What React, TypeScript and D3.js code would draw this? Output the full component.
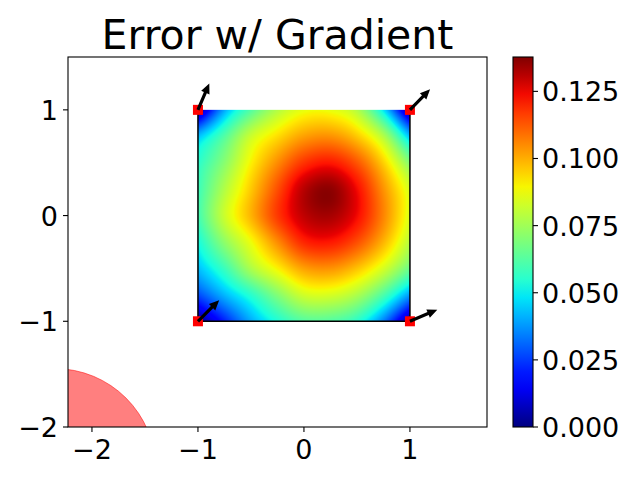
import { useMemo } from "react";
import * as d3 from "d3";

const title = "Error w/ Gradient";

// sample points of the error field (rows go from y = 1 down to y = -1)
const gridX = [-1, -0.75, -0.5, -0.25, 0, 0.25, 0.5, 0.75, 1];
const gridY = [1, 0.75, 0.5, 0.25, 0, -0.25, -0.5, -0.75, -1];
const errorGrid = [
  [0.0, 0.04, 0.062, 0.078, 0.087, 0.087, 0.078, 0.048, 0.0],
  [0.043, 0.062, 0.082, 0.093, 0.102, 0.104, 0.096, 0.078, 0.043],
  [0.055, 0.071, 0.09, 0.105, 0.118, 0.122, 0.113, 0.095, 0.07],
  [0.058, 0.078, 0.096, 0.114, 0.131, 0.136, 0.124, 0.104, 0.084],
  [0.059, 0.082, 0.099, 0.117, 0.13, 0.133, 0.124, 0.106, 0.085],
  [0.052, 0.072, 0.088, 0.105, 0.12, 0.122, 0.114, 0.099, 0.079],
  [0.043, 0.058, 0.077, 0.09, 0.102, 0.104, 0.097, 0.084, 0.066],
  [0.027, 0.042, 0.055, 0.07, 0.083, 0.084, 0.077, 0.061, 0.038],
  [0.0, 0.021, 0.04, 0.053, 0.062, 0.062, 0.055, 0.034, 0.0],
];
const errorMax = 0.1378;

// corner points and their gradient arrows
const cornerX = [-1, 1, -1, 1];
const cornerY = [1, 1, -1, -1];
const gradU = [0.107, 0.19, 0.2, 0.258];
const gradV = [0.25, 0.196, 0.2, 0.11];

// the red disc in the lower left
const circleCenter = [-2.35, -2.4];
const circleRadius = 0.95;

const xTicks = [-2, -1, 0, 1];
const yTicks = [-2, -1, 0, 1];
const cbTicks = [0, 0.025, 0.05, 0.075, 0.1, 0.125];

const FONT = "DejaVu Sans";

// matplotlib jet
const jetR = d3.scaleLinear().domain([0, 0.35, 0.66, 0.89, 1]).range([0, 0, 1, 1, 0.5]).clamp(true);
const jetG = d3.scaleLinear().domain([0, 0.125, 0.375, 0.64, 0.91, 1]).range([0, 0, 1, 1, 0, 0]).clamp(true);
const jetB = d3.scaleLinear().domain([0, 0.11, 0.34, 0.65, 1]).range([0.5, 1, 1, 0, 0]).clamp(true);
const jet = (t: number) => d3.rgb(jetR(t) * 255, jetG(t) * 255, jetB(t) * 255);

// smooth (bicubic) shading of the sampled grid, like an interpolated imshow
const cubic = (p0: number, p1: number, p2: number, p3: number, t: number) =>
  0.5 * (2 * p1 + (-p0 + p2) * t + (2 * p0 - 5 * p1 + 4 * p2 - p3) * t * t + (-p0 + 3 * p1 - 3 * p2 + p3) * t * t * t);

const sample = (g: number[][], fi: number, fj: number) => {
  const n = g.length - 1, m = g[0].length - 1;
  const at = (j: number, i: number) => {
    // linear extrapolation past the border
    const cj = Math.max(0, Math.min(n, j)), ci = Math.max(0, Math.min(m, i));
    let v = g[cj][ci];
    if (j < 0) v = 2 * g[0][ci] - g[1][ci];
    if (j > n) v = 2 * g[n][ci] - g[n - 1][ci];
    if (i < 0) v += (j < 0 || j > n ? 0 : 0) + (2 * g[cj][0] - g[cj][1]) - g[cj][0];
    if (i > m) v += (2 * g[cj][m] - g[cj][m - 1]) - g[cj][m];
    return v;
  };
  const j0 = Math.min(n - 1, Math.floor(fj)), i0 = Math.min(m - 1, Math.floor(fi));
  const tj = fj - j0, ti = fi - i0;
  const rows = [-1, 0, 1, 2].map((dj) =>
    cubic(at(j0 + dj, i0 - 1), at(j0 + dj, i0), at(j0 + dj, i0 + 1), at(j0 + dj, i0 + 2), ti)
  );
  return cubic(rows[0], rows[1], rows[2], rows[3], tj);
};

export default function App() {
  const x = d3.scaleLinear().domain([-2.226, 1.727]).range([68, 487]);
  const y = d3.scaleLinear().domain([-2, 1.5]).range([427, 57]);
  const cb = d3.scaleLinear().domain([0, errorMax]).range([427, 57]);
  const fmtAxis = d3.format("d");
  const fmtCb = d3.format(".3f");

  const sqX = x(gridX[0]), sqW = x(gridX[gridX.length - 1]) - sqX;
  const sqY = y(gridY[0]), sqH = y(gridY[gridY.length - 1]) - sqY;

  const heatUrl = useMemo(() => {
    const W = Math.round(sqW), H = Math.round(sqH);
    const c = document.createElement("canvas");
    c.width = W;
    c.height = H;
    const ctx = c.getContext("2d")!;
    const img = ctx.createImageData(W, H);
    const ni = gridX.length - 1, nj = gridY.length - 1;
    for (let py = 0; py < H; py++) {
      for (let px = 0; px < W; px++) {
        const v = sample(errorGrid, ((px + 0.5) / W) * ni, ((py + 0.5) / H) * nj);
        const col = jet(Math.max(0, Math.min(1, v / errorMax)));
        const k = (py * W + px) * 4;
        img.data[k] = col.r;
        img.data[k + 1] = col.g;
        img.data[k + 2] = col.b;
        img.data[k + 3] = 255;
      }
    }
    ctx.putImageData(img, 0, 0);
    return c.toDataURL();
  }, [sqW, sqH]);

  const arrow = (i: number) => {
    const sx = x(cornerX[i]), sy = y(cornerY[i]);
    const ex = x(cornerX[i] + gradU[i]), ey = y(cornerY[i] + gradV[i]);
    const len = Math.hypot(ex - sx, ey - sy);
    const ang = (Math.atan2(ey - sy, ex - sx) * 180) / Math.PI;
    const w = 1.6, hl = 10, hw = 4.5;
    const pts = [
      [0, -w], [len - hl, -w], [len - hl, -hw], [len, 0],
      [len - hl, hw], [len - hl, w], [0, w],
    ];
    return (
      <polygon key={"a" + i} points={pts.map((p) => p.join(",")).join(" ")}
        transform={`translate(${sx},${sy}) rotate(${ang})`} fill="#000" />
    );
  };

  const stops = d3.range(0, 1.0001, 0.05);

  return (
    <svg width={640} height={480} style={{ position: "absolute", left: 0, top: 0, background: "#fff" }}
      fontFamily={FONT}>
      <defs>
        <clipPath id="ax">
          <rect x={68} y={57} width={419} height={370} />
        </clipPath>
        <linearGradient id="jet" x1="0" y1="1" x2="0" y2="0">
          {stops.map((t) => (
            <stop key={t} offset={t} stopColor={jet(t).formatHex()} />
          ))}
        </linearGradient>
      </defs>

      <text x={277.5} y={49} fontSize={41} textAnchor="middle">{title}</text>

      {/* heatmap */}
      <image href={heatUrl} x={sqX} y={sqY} width={sqW} height={sqH} preserveAspectRatio="none" />
      <polyline
        points={[[-1, 1], [-1, -1], [1, -1], [1, 1]].map(([a, b]) => `${x(a)},${y(b)}`).join(" ")}
        fill="none" stroke="#000" strokeWidth={1.5} />

      <g clipPath="url(#ax)">
        <circle cx={x(circleCenter[0])} cy={y(circleCenter[1])} r={x(circleRadius) - x(0)}
          fill="#ff0000" fillOpacity={0.5} stroke="#ff0000" strokeOpacity={0.5} strokeWidth={1} />
      </g>

      {cornerX.map((cx, i) => (
        <rect key={"m" + i} x={x(cx) - 5} y={y(cornerY[i]) - 5} width={10} height={10} fill="#ff0000" />
      ))}
      {cornerX.map((_, i) => arrow(i))}

      {/* axes frame */}
      <rect x={68} y={57} width={419} height={370} fill="none" stroke="#000" strokeWidth={1.1} />
      {xTicks.map((t) => (
        <g key={"x" + t}>
          <line x1={x(t)} x2={x(t)} y1={427} y2={432} stroke="#000" strokeWidth={1.1} />
          <text x={x(t)} y={459} fontSize={27} textAnchor="middle">{fmtAxis(t)}</text>
        </g>
      ))}
      {yTicks.map((t) => (
        <g key={"y" + t}>
          <line x1={63} x2={68} y1={y(t)} y2={y(t)} stroke="#000" strokeWidth={1.1} />
          <text x={58} y={y(t) + 10} fontSize={27} textAnchor="end">{fmtAxis(t)}</text>
        </g>
      ))}

      {/* colorbar */}
      <rect x={513} y={57} width={20} height={370} fill="url(#jet)" stroke="#000" strokeWidth={1.1} />
      {cbTicks.map((t) => (
        <g key={"c" + t}>
          <line x1={533} x2={538} y1={cb(t)} y2={cb(t)} stroke="#000" strokeWidth={1.1} />
          <text x={542} y={cb(t) + 10} fontSize={27}>{fmtCb(t)}</text>
        </g>
      ))}
    </svg>
  );
}
